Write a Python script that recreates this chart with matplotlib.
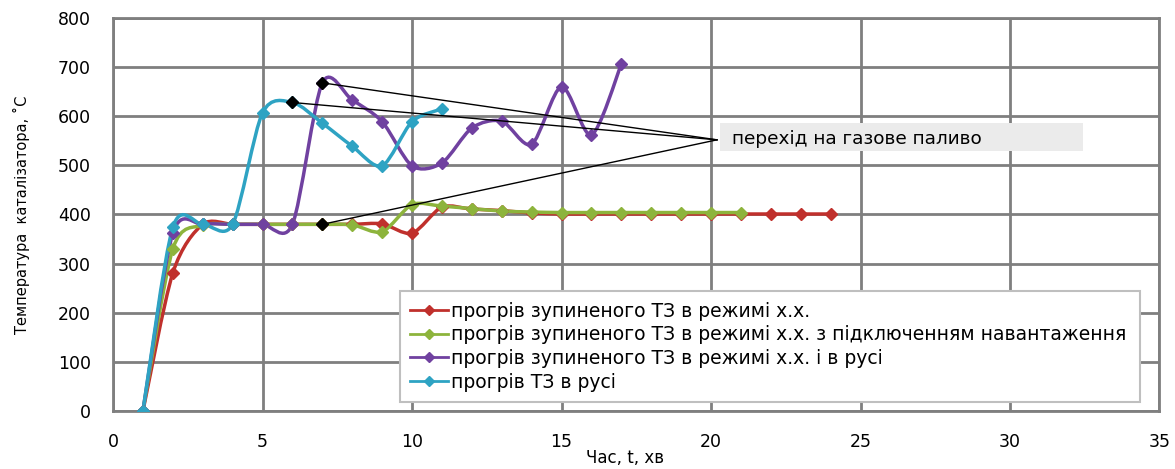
import numpy as np
import matplotlib.pyplot as plt
from matplotlib.path import Path
from matplotlib.patches import PathPatch, Rectangle
from matplotlib.lines import Line2D

plt.rcParams['font.family'] = ['DejaVu Sans']

# data: time, min -> catalyst temperature, deg C
t_red = [1, 2, 3, 4, 5, 6, 7, 8, 9, 10, 11, 12, 13, 14, 15, 16, 17, 18, 19, 20, 21, 22, 23, 24]
T_red = [0, 281, 380, 380, 380, 380, 380, 380, 381, 362, 415, 411, 408, 403, 401, 401, 401, 401, 401, 401, 401, 401, 401, 401]

t_green = [1, 2, 3, 4, 5, 6, 7, 8, 9, 10, 11, 12, 13, 14, 15, 16, 17, 18, 19, 20, 21]
T_green = [0, 330, 378, 380, 380, 380, 380, 379, 365, 420, 417, 412, 407, 405, 404, 404, 404, 404, 404, 404, 404]

t_purple = [1, 2, 3, 4, 5, 6, 7, 8, 9, 10, 11, 12, 13, 14, 15, 16, 17]
T_purple = [0, 362, 380, 380, 380, 380, 668, 633, 589, 499, 505, 576, 590, 543, 660, 562, 706]

t_cyan = [1, 2, 3, 4, 5, 6, 7, 8, 9, 10, 11]
T_cyan = [0, 374, 380, 380, 607, 628, 586, 539, 499, 589, 615]

labels = ['прогрів зупиненого ТЗ в режимі х.х.',
          'прогрів зупиненого ТЗ в режимі х.х. з підключенням навантаження',
          'прогрів зупиненого ТЗ в режимі х.х. і в русі',
          'прогрів ТЗ в русі']
colors = ['#c0302c', '#8db43c', '#7041a0', '#2ea3c3']

# switch to gas fuel points
gas_t = [7, 6, 7]
gas_T = [668, 628, 380]
tip = (20.2, 552)


def smooth_path(x, y, k=7.0):
    # Excel-like smoothed line (Catmull-Rom to bezier)
    pts = np.column_stack([x, y]).astype(float)
    verts = [pts[0]]
    codes = [Path.MOVETO]
    for i in range(len(pts) - 1):
        p0 = pts[i - 1] if i > 0 else pts[i]
        p3 = pts[i + 2] if i + 2 < len(pts) else pts[i + 1]
        verts += [pts[i] + (pts[i + 1] - p0) / k, pts[i + 1] - (p3 - pts[i]) / k, pts[i + 1]]
        codes += [Path.CURVE4] * 3
    return Path(verts, codes)


fig = plt.figure(figsize=(11.75, 4.69), dpi=100)
ax = fig.add_axes([0.0962, 0.1237, 0.8906, 0.8379])

series = [(t_red, T_red), (t_green, T_green), (t_purple, T_purple), (t_cyan, T_cyan)]
handles = []
for (x, y), c, lab in zip(series, colors, labels):
    ax.add_patch(PathPatch(smooth_path(x, y), fill=False, edgecolor=c, lw=2.5, zorder=3))
    ax.plot(x, y, ls='none', marker='D', ms=6, color=c, zorder=4)
    handles.append(Line2D([], [], color=c, lw=2, marker='D', ms=5, label=lab))

# annotation lines
for gx, gy in zip(gas_t, gas_T):
    ax.plot([gx, tip[0]], [gy, tip[1]], color='black', lw=1, zorder=5)
ax.plot(gas_t, gas_T, ls='none', marker='D', ms=6, color='black', zorder=6)

ax.add_patch(Rectangle((20.29, 529), 12.14, 57, facecolor='#ebebeb', edgecolor='none', zorder=2))
ax.text(20.7, 553, 'перехід на газове паливо', fontsize=13.3, va='center', ha='left', zorder=3)

ax.set_xlim(0, 35)
ax.set_ylim(0, 800)
ax.set_xticks(range(0, 36, 5))
ax.set_yticks(range(0, 801, 100))
ax.grid(True, color='#7f7f7f', lw=2)
ax.set_axisbelow(True)
for s in ax.spines.values():
    s.set_color('#7f7f7f')
    s.set_linewidth(2)
ax.tick_params(length=0, labelsize=12.5)
ax.tick_params(axis='x', pad=16)
ax.tick_params(axis='y', pad=16)

ax.set_ylabel('Температура  каталізатора, ˚С', fontsize=10.5, labelpad=20)
fig.text(0.532, 0.005, 'Час, t, хв', fontsize=12, ha='center', va='bottom')

leg = ax.legend(handles=handles, loc='lower left', bbox_to_anchor=(0.274, 0.023, 0.707, 0.28),
                mode='expand', borderaxespad=0,
                fontsize=13.5, frameon=True, fancybox=False, handlelength=2.0, handletextpad=0.2,
                labelspacing=0.25, borderpad=0.55)
leg.get_frame().set_edgecolor('#bfbfbf')
leg.get_frame().set_linewidth(1.5)
leg.get_frame().set_alpha(1)
leg.set_zorder(10)

fig.savefig('out.png', dpi=100)
